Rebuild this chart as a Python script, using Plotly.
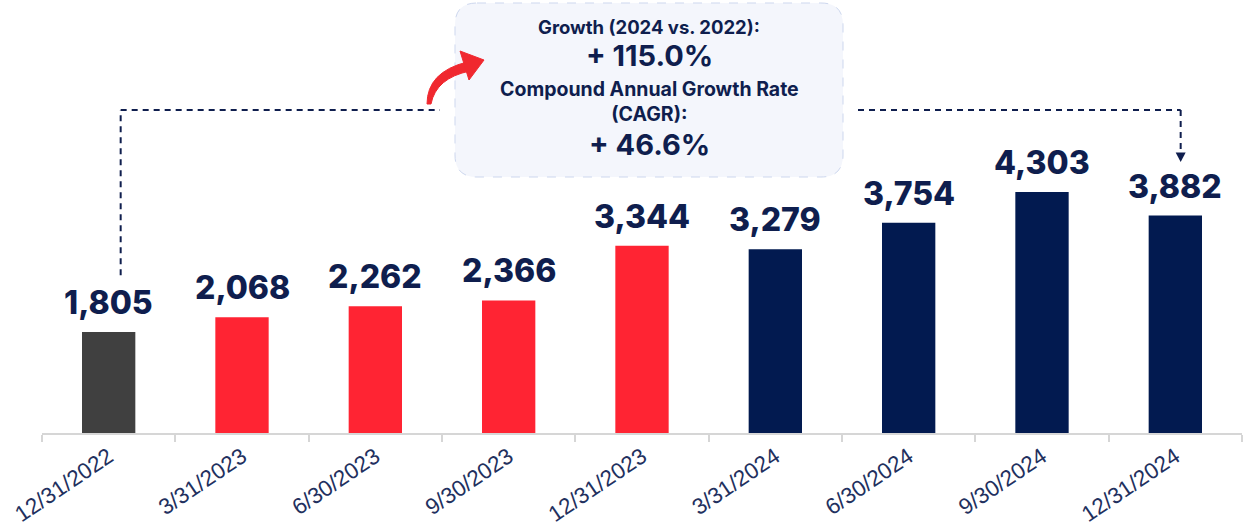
import plotly.graph_objects as go

categories = ["12/31/2022", "3/31/2023", "6/30/2023", "9/30/2023", "12/31/2023",
              "3/31/2024", "6/30/2024", "9/30/2024", "12/31/2024"]
values = [1805, 2068, 2262, 2366, 3344, 3279, 3754, 4303, 3882]
bar_colors = ["#404040", "#ff2433", "#ff2433", "#ff2433", "#ff2433",
              "#021a50", "#021a50", "#021a50", "#021a50"]
growth_title = "Growth (2024 vs. 2022):"
growth_value = "+ 115.0%"
cagr_title = "Compound Annual Growth Rate<br>(CAGR):"
cagr_value = "+ 46.6%"

NAVY = "#0f1e4e"
W, H = 1244, 528
ML, MR, MT, MB = 42, 2, 0, 95
PW, PH = W - ML - MR, H - MT - MB
YMAX = 7730


def px(x):
    return (x - ML) / PW


def py(y):
    return (H - MB - y) / PH


def yval(y):
    return (H - MB - y) / PH * YMAX


fig = go.Figure()
fig.add_trace(go.Bar(
    x=categories, y=values, marker=dict(color=bar_colors, line=dict(width=0)),
    width=0.4, hoverinfo="skip",
))

# value labels
for c, v in zip(categories, values):
    fig.add_annotation(x=c, y=v, text=f"{v:,}", showarrow=False, yanchor="bottom",
                       yshift=8, font=dict(family="Inter", size=32, color=NAVY, weight=800))

shapes = []
dash_line = dict(color=NAVY, width=2, dash="6px,5px")
y_level = yval(110)
# left vertical + horizontal
shapes.append(dict(type="line", xref="x", yref="y", x0=0.09, x1=0.09,
                   y0=values[0] + 1010, y1=y_level, line=dash_line))
shapes.append(dict(type="line", xref="x", yref="y", x0=0.09, x1=px(440) * 9 - 0.5,
                   y0=y_level, y1=y_level, line=dash_line))
# right horizontal + vertical
shapes.append(dict(type="line", xref="x", yref="y", x0=px(858) * 9 - 0.5, x1=8.04,
                   y0=y_level, y1=y_level, line=dash_line))
tip = values[8] + 956
shapes.append(dict(type="line", xref="x", yref="y", x0=8.04, x1=8.04,
                   y0=y_level, y1=tip + 180, line=dash_line))
hw = 5 / (PW / 9)
shapes.append(dict(type="path", xref="x", yref="y",
                   path=f"M {8.04 - hw},{tip + 170} L {8.04 + hw},{tip + 170} L 8.04,{tip} Z",
                   fillcolor=NAVY, line=dict(width=0)))

# rounded box
x0, x1, y0, y1 = px(455), px(843), py(177), py(3)
rx, ry = 22 / PW, 22 / PH
box_path = (f"M {x0 + rx},{y1} L {x1 - rx},{y1} Q {x1},{y1} {x1},{y1 - ry} "
            f"L {x1},{y0 + ry} Q {x1},{y0} {x1 - rx},{y0} L {x0 + rx},{y0} "
            f"Q {x0},{y0} {x0},{y0 + ry} L {x0},{y1 - ry} Q {x0},{y1} {x0 + rx},{y1} Z")
shapes.append(dict(type="path", xref="paper", yref="paper", path=box_path,
                   fillcolor="#f4f6fc", line=dict(color="#cdd7ee", width=1, dash="dash"),
                   layer="below"))

# red curved arrow
arrow_body = (f"M {px(427)},{py(104)} Q {px(427)},{py(72)} {px(467)},{py(62)} "
              f"L {px(470)},{py(71)} Q {px(436)},{py(78)} {px(431)},{py(104)} Z")
shapes.append(dict(type="path", xref="paper", yref="paper", path=arrow_body,
                   fillcolor="#f0282f", line=dict(color="#f0282f", width=1)))
arrow_head = f"M {px(460)},{py(51)} L {px(484)},{py(60)} L {px(469)},{py(80)} Z"
shapes.append(dict(type="path", xref="paper", yref="paper", path=arrow_head,
                   fillcolor="#f0282f", line=dict(color="#f0282f", width=1)))

fig.update_layout(shapes=shapes)

cx = px(649)
texts = [
    (growth_title, 27, 18.5),
    (growth_value, 56, 29),
    (cagr_title, 101, 19.5),
    (cagr_value, 144, 29),
]
for t, yc, s in texts:
    fig.add_annotation(xref="paper", yref="paper", x=cx, y=py(yc), text=t, showarrow=False,
                       xanchor="center", yanchor="middle",
                       font=dict(family="Inter", size=s, color=NAVY, weight=700))

fig.update_layout(
    width=W, height=H, margin=dict(l=ML, r=MR, t=MT, b=MB, autoexpand=False),
    paper_bgcolor="white", plot_bgcolor="white", showlegend=False,
    xaxis=dict(type="category", showgrid=False, showline=True, linecolor="#d6d6d6", linewidth=1.5,
               ticks="outside", tickson="boundaries", ticklen=7, tickcolor="#d6d6d6", tickwidth=1.5,
               tickangle=-34, automargin=False,
               tickfont=dict(family="Liberation Sans, Arial", size=22.5, color="#22305e"),
               range=[-0.5, 8.5], fixedrange=True),
    yaxis=dict(visible=False, range=[0, YMAX], showgrid=False, zeroline=False, fixedrange=True),
)

fig.write_html("out.html", config={"displayModeBar": False},
               post_script="document.body.style.margin='0';document.body.style.overflow='hidden';")
